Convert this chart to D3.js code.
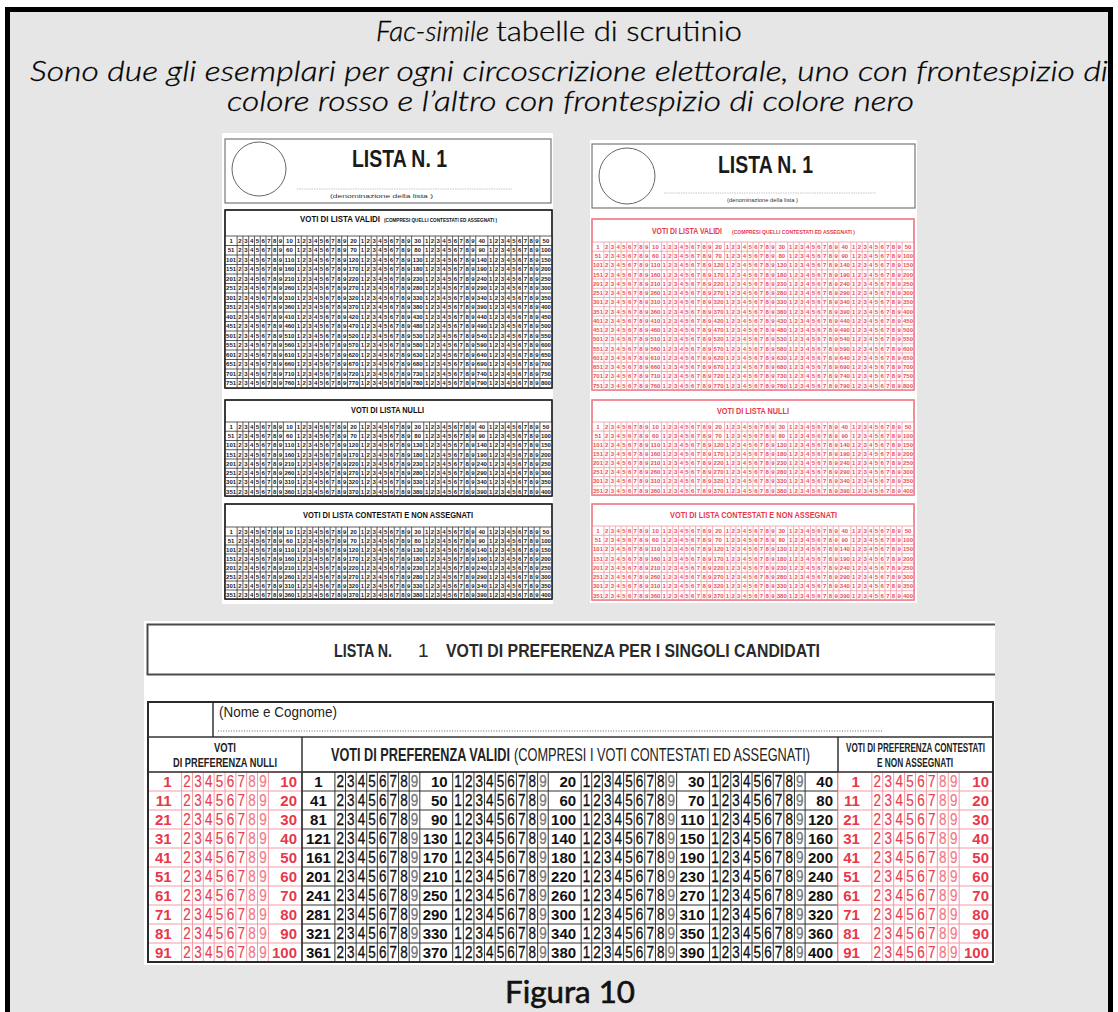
<!DOCTYPE html>
<html>
<head>
<meta charset="utf-8">
<script src="https://cdn.jsdelivr.net/npm/d3@7"></script>
<style>
  body { margin: 0; background: #fff; }
  svg { display: block; }
</style>
</head>
<body>
<svg id="main-svg"></svg>
<script>
// texts
var titleItalic = "Fac-simile";
var titleRest = "tabelle di scrutinio";
var subtitle1 = "Sono due gli esemplari per ogni circoscrizione elettorale, uno con frontespizio di";
var subtitle2 = "colore rosso e l\u2019altro con frontespizio di colore nero";
var caption = "Figura 10";

// digits printed between the numbered cells
var firstDigits = [2, 3, 4, 5, 6, 7, 8, 9];
var fullDigits = [1, 2, 3, 4, 5, 6, 7, 8, 9];

// small sheets: numbered cells of each row
var miniValidRows = [
  [1, 10, 20, 30, 40, 50], [51, 60, 70, 80, 90, 100], [101, 110, 120, 130, 140, 150],
  [151, 160, 170, 180, 190, 200], [201, 210, 220, 230, 240, 250], [251, 260, 270, 280, 290, 300],
  [301, 310, 320, 330, 340, 350], [351, 360, 370, 380, 390, 400], [401, 410, 420, 430, 440, 450],
  [451, 460, 470, 480, 490, 500], [501, 510, 520, 530, 540, 550], [551, 560, 570, 580, 590, 600],
  [601, 610, 620, 630, 640, 650], [651, 660, 670, 680, 690, 700], [701, 710, 720, 730, 740, 750],
  [751, 760, 770, 780, 790, 800]
];
var miniShortRows = [
  [1, 10, 20, 30, 40, 50], [51, 60, 70, 80, 90, 100], [101, 110, 120, 130, 140, 150],
  [151, 160, 170, 180, 190, 200], [201, 210, 220, 230, 240, 250], [251, 260, 270, 280, 290, 300],
  [301, 310, 320, 330, 340, 350], [351, 360, 370, 380, 390, 400]
];

// big preference table
var prefValidRows = [
  [1, 10, 20, 30, 40], [41, 50, 60, 70, 80], [81, 90, 100, 110, 120], [121, 130, 140, 150, 160],
  [161, 170, 180, 190, 200], [201, 210, 220, 230, 240], [241, 250, 260, 270, 280],
  [281, 290, 300, 310, 320], [321, 330, 340, 350, 360], [361, 370, 380, 390, 400]
];
var prefSideRows = [
  [1, 10], [11, 20], [21, 30], [31, 40], [41, 50], [51, 60], [61, 70], [71, 80], [81, 90], [91, 100]
];

var W = 1118, H = 1012;
var NARROW = "'Liberation Sans Narrow','Liberation Sans',Arial,sans-serif";
var SANS = "'Liberation Sans',Arial,sans-serif";
var TITLE = "Lato,'Open Sans',sans-serif";
var RED = "#e8384c", RED_LIGHT = "#f07a88", RED_LINE = "#f39aa4";

var svg = d3.select("#main-svg").attr("width", W).attr("height", H);

svg.append("rect").attr("width", W).attr("height", H).attr("fill", "#fff");
svg.append("rect").attr("x", 7.5).attr("y", 9.5).attr("width", 1103).attr("height", 1030)
   .attr("fill", "#e6e6e6").attr("stroke", "#000").attr("stroke-width", 5);

function txt(g, s, x, y, o) {
  var t = g.append("text").attr("x", x).attr("y", y).text(s)
    .attr("font-family", o.family || SANS)
    .attr("font-size", o.size)
    .attr("fill", o.fill || "#111")
    .attr("font-weight", o.weight || "normal")
    .attr("font-style", o.style || "normal")
    .attr("text-anchor", o.anchor || "start");
  if (o.len) t.attr("textLength", o.len).attr("lengthAdjust", "spacingAndGlyphs");
  if (o.stroke) t.attr("stroke", o.fill || "#111").attr("stroke-width", o.stroke);
  return t;
}

// titles
txt(svg, titleItalic, 376, 41, {family: TITLE, size: 27, weight: 300, style: "italic", fill: "#000", len: 113, stroke: 0.3});
txt(svg, titleRest, 496, 41, {family: TITLE, size: 27, weight: 300, fill: "#000", len: 246, stroke: 0.3});
txt(svg, subtitle1, 30, 81, {family: TITLE, size: 27, weight: 300, style: "italic", fill: "#000", len: 1078, stroke: 0.3});
txt(svg, subtitle2, 227, 111, {family: TITLE, size: 27, weight: 300, style: "italic", fill: "#000", len: 687, stroke: 0.3});
txt(svg, caption, 505, 1003, {family: TITLE, size: 30, weight: "normal", fill: "#111", len: 130, stroke: 0.6});

// cells of one row: numbered cell, digits, numbered cell ...
function rowCells(labels, numUnits) {
  var cells = [];
  labels.forEach(function(lab, i) {
    cells.push({kind: "num", text: lab, idx: i, u: numUnits});
    if (i < labels.length - 1) {
      (i == 0 ? firstDigits : fullDigits).forEach(function(dg) {
        cells.push({kind: "dig", text: dg, u: 1});
      });
    }
  });
  var acc = 0;
  cells.forEach(function(c) { c.u0 = acc; acc += c.u; c.u1 = acc; });
  return cells;
}

function drawGrid(g, rows, o) {
  var cellsByRow = rows.map(function(r) { return rowCells(r, o.numUnits); });
  var first = cellsByRow[0];
  var total = first[first.length - 1].u1;
  var x = d3.scaleLinear().domain([0, total]).range([o.x0, o.x1]);
  var y = d3.scaleLinear().domain([0, rows.length]).range([o.y0, o.y1]);

  g.append("rect").attr("x", o.x0).attr("y", o.y0).attr("width", o.x1 - o.x0).attr("height", o.y1 - o.y0)
   .attr("fill", "#fff");

  var bounds = [0].concat(first.map(function(c) { return c.u1; }));
  g.selectAll(null).data(bounds).enter().append("line")
    .attr("x1", function(d) { return x(d); }).attr("x2", function(d) { return x(d); })
    .attr("y1", o.y0).attr("y2", o.y1)
    .attr("stroke", o.line).attr("stroke-width", o.lineW);
  g.selectAll(null).data(d3.range(rows.length + 1)).enter().append("line")
    .attr("x1", o.x0).attr("x2", o.x1)
    .attr("y1", function(d) { return y(d); }).attr("y2", function(d) { return y(d); })
    .attr("stroke", o.line).attr("stroke-width", o.lineW);

  cellsByRow.forEach(function(cells, ri) {
    var t = g.selectAll(null).data(cells).enter().append("text")
      .attr("x", function(c) {
        if (c.kind == "dig") return x((c.u0 + c.u1) / 2);
        var al = o.numAlign(c);
        return al.anchor == "middle" ? x((c.u0 + c.u1) / 2) : x(c.u1) - al.pad;
      })
      .attr("y", y(ri + 0.5) + o.size * 0.36)
      .attr("text-anchor", function(c) { return c.kind == "dig" ? "middle" : o.numAlign(c).anchor; })
      .attr("font-family", o.family)
      .attr("font-size", function(c) { return c.kind == "num" ? o.size : (o.digSize || o.size); })
      .attr("font-weight", function(c) { return c.kind == "num" ? "bold" : o.digWeight(c.text); })
      .attr("fill", function(c) { return c.kind == "num" ? o.numFill : o.digFill(c.text); })
      .attr("stroke", function(c) { return c.kind == "dig" && o.digStroke ? o.digFill(c.text) : "none"; })
      .attr("stroke-width", o.digStroke || 0)
      .text(function(c) { return c.text; });
    if (o.digLen) {
      t.filter(function(c) { return c.kind == "dig"; })
       .attr("textLength", o.digLen).attr("lengthAdjust", "spacingAndGlyphs");
    }
  });
}

// small sheets
function drawMini(c) {
  var g = svg.append("g");
  g.append("rect").attr("x", c.panel[0]).attr("y", c.panel[1])
   .attr("width", c.panel[2] - c.panel[0]).attr("height", c.panel[3] - c.panel[1]).attr("fill", "#fff");
  g.append("rect").attr("x", c.head[0]).attr("y", c.head[1])
   .attr("width", c.head[2] - c.head[0]).attr("height", c.head[3] - c.head[1])
   .attr("fill", "#fff").attr("stroke", "#777").attr("stroke-width", 1.2);
  g.append("circle").attr("cx", c.circle[0]).attr("cy", c.circle[1]).attr("r", c.circle[2])
   .attr("fill", "none").attr("stroke", "#666").attr("stroke-width", 1);
  txt(g, "LISTA N. 1", c.lista[0], c.lista[1], {family: NARROW, size: 23, weight: "bold", fill: "#1a1a1a", len: 95});
  g.append("line").attr("x1", c.dots[0]).attr("x2", c.dots[1]).attr("y1", c.dots[2]).attr("y2", c.dots[2])
   .attr("stroke", "#888").attr("stroke-width", 0.7).attr("stroke-dasharray", "0.7,1");
  txt(g, "(denominazione della lista )", c.denom[0], c.denom[1], {family: SANS, size: 5, fill: "#333", len: c.denom[2]});

  c.boxes.forEach(function(b) {
    g.append("rect").attr("x", c.x0).attr("y", b.top).attr("width", c.x1 - c.x0).attr("height", b.gridBot - b.top)
     .attr("fill", "#fff").attr("stroke", c.border).attr("stroke-width", 1.3);
    b.titles.forEach(function(t) {
      txt(g, t[0], t[1], b.base, {family: NARROW, size: t[3], weight: "bold", fill: c.titleFill, len: t[2]});
    });
    drawGrid(g, b.rows, {
      x0: c.x0, x1: c.x1, y0: b.gridTop, y1: b.gridBot, numUnits: 2.1,
      line: c.line, lineW: 0.8, family: NARROW, size: 6,
      digWeight: function() { return "bold"; },
      numFill: c.textFill, digFill: function() { return c.textFill; },
      numAlign: function() { return {anchor: "middle", pad: 0}; }
    });
    g.append("rect").attr("x", c.x0).attr("y", b.top).attr("width", c.x1 - c.x0).attr("height", b.gridBot - b.top)
     .attr("fill", "none").attr("stroke", c.border).attr("stroke-width", 1.3);
  });
}

drawMini({
  panel: [222, 133, 553, 604], head: [225, 139, 551, 203], circle: [259, 169, 27],
  lista: [352, 167], dots: [297, 513, 189], denom: [330, 198, 103],
  x0: 225, x1: 552, border: "#222", line: "#333", titleFill: "#111", textFill: "#1a1a1a",
  boxes: [
    {top: 210, gridTop: 236, gridBot: 388, base: 222, rows: miniValidRows,
     titles: [["VOTI DI LISTA VALIDI", 300, 80, 9], ["(COMPRESI QUELLI CONTESTATI ED ASSEGNATI )", 384, 113, 5.5]]},
    {top: 400, gridTop: 422, gridBot: 496, base: 413, rows: miniShortRows,
     titles: [["VOTI DI LISTA NULLI", 351, 73, 9.5]]},
    {top: 504, gridTop: 527, gridBot: 599, base: 518, rows: miniShortRows,
     titles: [["VOTI DI LISTA CONTESTATI E NON ASSEGNATI", 303, 170, 9.5]]}
  ]
});

drawMini({
  panel: [590, 140, 917, 603], head: [592, 144, 915, 208], circle: [627, 176, 28],
  lista: [718, 173], dots: [664, 876, 193], denom: [727, 202, 71],
  x0: 592, x1: 914, border: "#f07f8b", line: RED_LINE, titleFill: RED, textFill: "#e8505c",
  boxes: [
    {top: 219, gridTop: 242, gridBot: 390, base: 234, rows: miniValidRows,
     titles: [["VOTI DI LISTA VALIDI", 652, 70, 9], ["(COMPRESI QUELLI CONTESTATI ED ASSEGNATI )", 732, 123, 5.5]]},
    {top: 400, gridTop: 422, gridBot: 495, base: 414, rows: miniShortRows,
     titles: [["VOTI DI LISTA NULLI", 717, 72, 9.5]]},
    {top: 504, gridTop: 526, gridBot: 600, base: 518, rows: miniShortRows,
     titles: [["VOTI DI LISTA CONTESTATI E NON ASSEGNATI", 670, 167, 9.5]]}
  ]
});

// big preference table
var big = svg.append("g");
big.append("rect").attr("x", 144).attr("y", 621).attr("width", 851).attr("height", 344).attr("fill", "#fff");
big.append("path").attr("d", "M995,624.5H147.5V674.5H995")
   .attr("fill", "none").attr("stroke", "#4a4a4a").attr("stroke-width", 2);
txt(big, "LISTA N.", 334, 657, {family: SANS, size: 18, weight: "bold", fill: "#2a2a2a", len: 58});
txt(big, "1", 418, 657, {family: SANS, size: 19, fill: "#2a2a2a"});
txt(big, "VOTI DI PREFERENZA PER I SINGOLI CANDIDATI", 446, 657, {family: SANS, size: 18, weight: "bold", fill: "#2a2a2a", len: 374});

var T = {x0: 148, x1: 993, y0: 702, yName: 737, yHead: 772, y1: 962, xNull: 302, xCont: 838, xNameCell: 213};

txt(big, "(Nome e Cognome)", 219, 717, {family: SANS, size: 15, fill: "#222", len: 118});
big.append("line").attr("x1", 218).attr("x2", 882).attr("y1", 731).attr("y2", 731)
   .attr("stroke", "#666").attr("stroke-width", 1).attr("stroke-dasharray", "1,1.6");

txt(big, "VOTI", 225, 752, {family: NARROW, size: 12, weight: "bold", fill: "#222", anchor: "middle", len: 22});
txt(big, "DI PREFERENZA NULLI", 173, 767, {family: NARROW, size: 12, weight: "bold", fill: "#222", len: 104});
txt(big, "VOTI DI PREFERENZA VALIDI", 331, 761, {family: NARROW, size: 18, weight: "bold", fill: "#222", len: 179});
txt(big, "(COMPRESI I VOTI CONTESTATI ED ASSEGNATI)", 514, 761, {family: NARROW, size: 18, fill: "#222", len: 296});
txt(big, "VOTI DI PREFERENZA CONTESTATI", 846, 752, {family: NARROW, size: 12, weight: "bold", fill: "#222", len: 139});
txt(big, "E NON ASSEGNATI", 877, 767, {family: NARROW, size: 12, weight: "bold", fill: "#222", len: 76});

drawGrid(big, prefSideRows, {
  x0: T.x0, x1: T.xNull, y0: T.yHead, y1: T.y1, numUnits: 3.1,
  line: RED_LINE, lineW: 1, family: SANS, size: 15, digSize: 16, digLen: 7.5,
  digWeight: function() { return "normal"; }, digStroke: 0.2,
  numFill: RED, digFill: function(d) { return d >= 8 ? RED_LIGHT : "#e84050"; },
  numAlign: function(c) { return c.idx == 0 ? {anchor: "end", pad: 10} : {anchor: "end", pad: 5}; }
});
drawGrid(big, prefValidRows, {
  x0: T.xNull, x1: T.xCont, y0: T.yHead, y1: T.y1, numUnits: 3.1,
  line: "#333", lineW: 1, family: SANS, size: 15, digSize: 16, digLen: 7.5,
  digWeight: function() { return "normal"; }, digStroke: 0.35,
  numFill: "#111", digFill: function(d) { return d == 9 ? "#777" : "#111"; },
  numAlign: function(c) { return c.idx == 0 ? {anchor: "middle", pad: 0} : {anchor: "end", pad: 5}; }
});
drawGrid(big, prefSideRows, {
  x0: T.xCont, x1: T.x1, y0: T.yHead, y1: T.y1, numUnits: 3.1,
  line: RED_LINE, lineW: 1, family: SANS, size: 15, digSize: 16, digLen: 7.5,
  digWeight: function() { return "normal"; }, digStroke: 0.2,
  numFill: RED, digFill: function(d) { return d >= 8 ? RED_LIGHT : "#e84050"; },
  numAlign: function(c) { return c.idx == 0 ? {anchor: "end", pad: 12} : {anchor: "end", pad: 4}; }
});

// frame lines of the big table
var frame = [
  [T.x0, T.yName, T.x1, T.yName], [T.x0, T.yHead, T.x1, T.yHead],
  [T.xNameCell, T.y0, T.xNameCell, T.yName],
  [T.xNull, T.yName, T.xNull, T.y1], [T.xCont, T.yName, T.xCont, T.yHead]
];
big.selectAll(null).data(frame).enter().append("line")
  .attr("x1", function(d) { return d[0]; }).attr("y1", function(d) { return d[1]; })
  .attr("x2", function(d) { return d[2]; }).attr("y2", function(d) { return d[3]; })
  .attr("stroke", "#333").attr("stroke-width", 1.5);
big.append("rect").attr("x", T.x0).attr("y", T.y0).attr("width", T.x1 - T.x0).attr("height", T.y1 - T.y0)
   .attr("fill", "none").attr("stroke", "#2a2a2a").attr("stroke-width", 2);
</script>
</body>
</html>
